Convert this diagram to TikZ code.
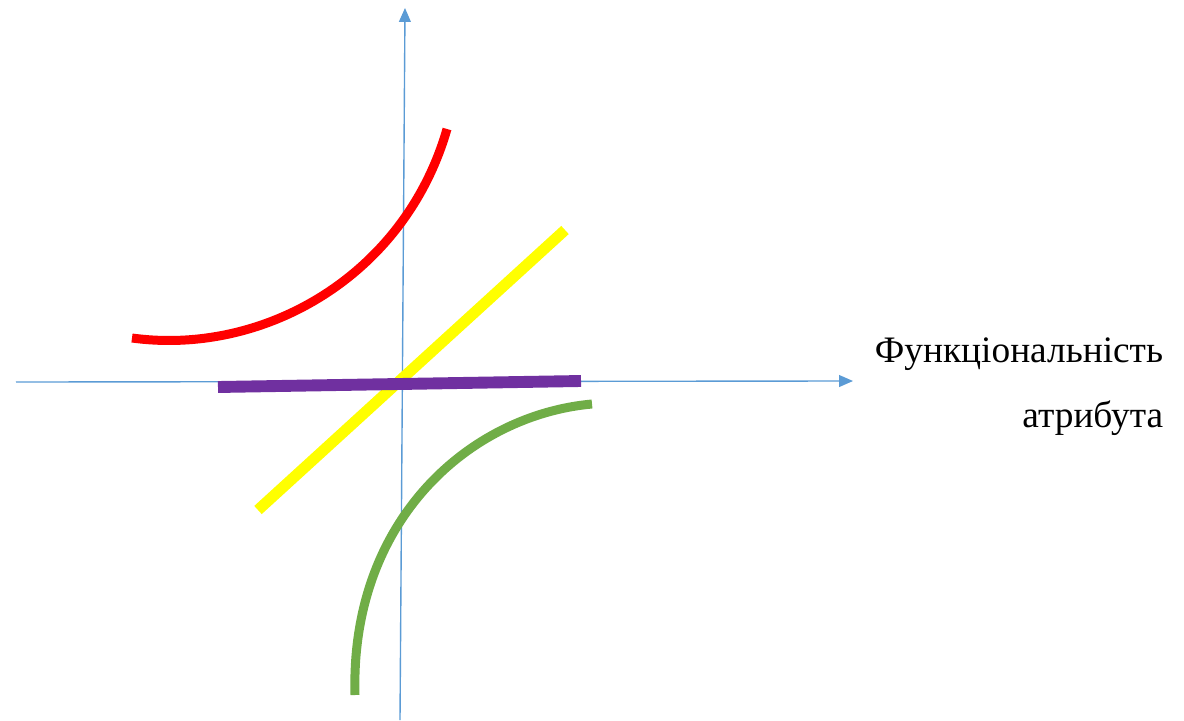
\documentclass[tikz,border=0pt]{standalone}
\usepackage{fontspec}
\setmainfont{Liberation Serif}
\usetikzlibrary{arrows.meta, positioning}

\definecolor{axisblue}{HTML}{5B9BD5}
\definecolor{curvered}{HTML}{FF0000}
\definecolor{curvegreen}{HTML}{70AD47}
\definecolor{lineyellow}{HTML}{FFFF00}
\definecolor{linepurple}{HTML}{7030A0}

\begin{document}
\begin{tikzpicture}[
    x=0.0254cm, y=-0.0254cm,
    axis/.style={draw=axisblue, line width=1pt, -{Triangle[length=10pt, width=8.5pt]}},
    curve/.style={line width=6.5pt},
    label/.style={font=\fontsize{27}{32}\selectfont, align=right}
]
    \useasboundingbox (0,0) rectangle (1184,720);

    % осі
    \coordinate (xstart) at (16,382);
    \coordinate (xend) at (853,381);
    \coordinate (ystart) at (400,720);
    \coordinate (yend) at (405,8);
    \draw[axis] (xstart) -- (xend);
    \draw[axis] (ystart) -- (yend);

    % червона крива
    \coordinate (r1) at (132,338);
    \coordinate (r2) at (447,129);
    \draw[curve, curvered] (r1) .. controls (265,356) and (405,275) .. (r2);

    % жовта пряма
    \coordinate (y1) at (258,510);
    \coordinate (y2) at (565,230);
    \draw[curve, lineyellow, line width=8pt] (y1) -- (y2);

    % фіолетова пряма
    \coordinate (p1) at (218,387);
    \coordinate (p2) at (581,381);
    \draw[linepurple, line width=8.6pt] (p1) -- (p2);

    % зелена крива
    \coordinate (g1) at (592,404);
    \coordinate (g2) at (355,695);
    \draw[curve, curvegreen] (g1) .. controls (470,415) and (350,520) .. (g2);

    % підпис
    \node[label, anchor=north east] (xlabel) at (1168,333) {Функціональність\\[15pt]атрибута};
\end{tikzpicture}
\end{document}
